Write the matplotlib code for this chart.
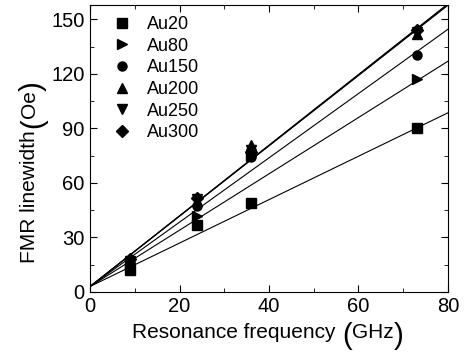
import matplotlib
matplotlib.use('Agg')
import matplotlib.pyplot as plt
import numpy as np
from matplotlib.ticker import MultipleLocator

plt.rcParams['font.family'] = ['Liberation Sans', 'DejaVu Sans']

# data
freq = [9, 24, 36, 73]
samples = ['Au20', 'Au80', 'Au150', 'Au200', 'Au250', 'Au300']
markers = ['s', '>', 'o', '^', 'v', 'D']
linewidth_vals = {
    'Au20': [12, 37, 49, 90],
    'Au80': [15, 42, 75, 117],
    'Au150': [16.5, 47.5, 74.5, 130.5],
    'Au200': [18, 50, 81, 142],
    'Au250': [17, 51, 78, 143],
    'Au300': [18, 51.5, 77, 144],
}
# linear fits (slope, intercept)
fit_slope = [1.195, 1.55, 1.77, 1.935, 1.94, 1.945]
fit_intercept = [3, 3, 3, 3, 3, 3]

fig = plt.figure(figsize=(4.69, 3.53), dpi=100)
ax = fig.add_axes([0.192, 0.173, 0.763, 0.813])

xf = np.array([0, 80])
for i, s in enumerate(samples):
    ax.plot(freq, linewidth_vals[s], linestyle='none', marker=markers[i],
            color='black', markersize=6.5 if markers[i] != 'D' else 6, label=s)
    ax.plot(xf, fit_slope[i] * xf + fit_intercept[i], color='black', linewidth=0.8)

ax.set_xlim(0, 80)
ax.set_ylim(0, 158)
ax.xaxis.set_major_locator(MultipleLocator(20))
ax.xaxis.set_minor_locator(MultipleLocator(10))
ax.yaxis.set_major_locator(MultipleLocator(30))
ax.yaxis.set_minor_locator(MultipleLocator(15))
ax.tick_params(which='both', direction='in', top=True, right=True, labelsize=14.5)
ax.tick_params(which='major', length=5, pad=4)
ax.tick_params(which='minor', length=3)

ax.legend(loc='upper left', frameon=False, fontsize=13, labelspacing=0.26,
          handlelength=1.0, handletextpad=0.85, borderpad=0, borderaxespad=0,
          bbox_to_anchor=(0.065, 0.962))


def label_pieces(x0, y0, pieces, rotation):
    # place text pieces one after another (pixel coords), parentheses drawn larger
    fig.canvas.draw()
    r = fig.canvas.get_renderer()
    pos = x0 if rotation == 0 else y0
    for txt, size, shift, gap in pieces:
        if rotation == 0:
            pos += gap
            t = fig.text(pos / 469, (353 - y0 - shift) / 353, txt, fontsize=size,
                         ha='left', va='baseline', rotation_mode='anchor')
            pos += t.get_window_extent(r).width
        else:
            pos -= gap
            t = fig.text((x0 + shift) / 469, (353 - pos) / 353, txt, fontsize=size,
                         ha='left', va='baseline', rotation=90, rotation_mode='anchor')
            pos -= t.get_window_extent(r).height


label_pieces(132, 338, [('Resonance frequency', 15, 0, 0), ('(', 21, 6, 7),
                        ('GHz', 15, 0, 0), (')', 21, 6, 0)], 0)
label_pieces(35, 263, [('FMR linewidth', 15, 0, 0), ('(', 21, 6, 2),
                       ('Oe', 15, 0, 0), (')', 21, 6, 0)], 90)

fig.savefig('out.png', dpi=100)
